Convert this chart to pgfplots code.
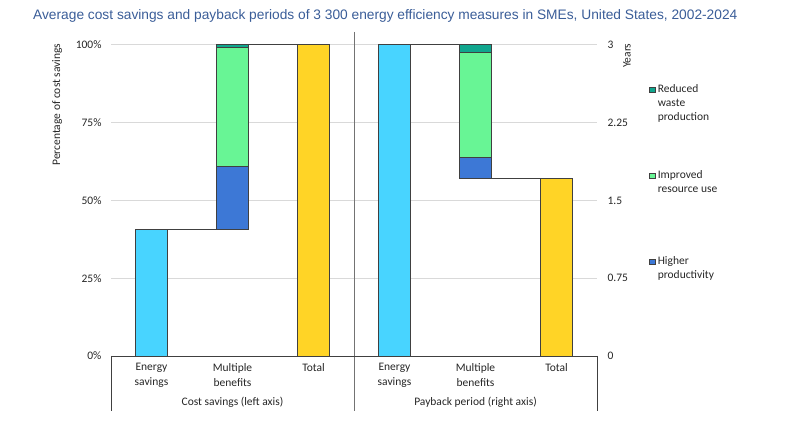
\documentclass[border=0pt]{standalone}
\usepackage{pgfplots}
\pgfplotsset{compat=1.18}
\usepackage{pgfplotstable}
\usepackage{fontspec}
\setmainfont{Carlito}
\newfontfamily\titlefont{Liberation Sans}
\definecolor{cES}{HTML}{48D4FF}
\definecolor{cHP}{HTML}{3D78D6}
\definecolor{cIR}{HTML}{68F595}
\definecolor{cRW}{HTML}{10A68E}
\definecolor{cTot}{HTML}{FFD426}
\definecolor{edge}{HTML}{404040}
\definecolor{titlecol}{HTML}{3A5D98}
\definecolor{tickcol}{HTML}{262626}

% Cost savings (percentage of cost savings)
\pgfplotstableread{
x   base  es    hp    ir    rw    total
0.5 0     40.7  0     0     0     0
1.5 40.7  0     20.2  38.4  0.7   0
2.5 0     0     0     0     0     100
}\costtab
% Payback period (years)
\pgfplotstableread{
x   base   es   hp    ir     rw     total
3.5 0      3    0     0      0      0
4.5 1.715  0    0.2   1.012  0.073  0
5.5 0      0    0     0      0      1.715
}\paytab

\tikzset{tfont/.style={font=\fontsize{11.5}{14.5}\selectfont, text=tickcol}}
\pgfplotsset{
  geom/.style={scale only axis, width=486pt, height=311.3pt,
    at={(111pt,66pt)}, anchor=south west,
    xmin=0, xmax=6, ymin=0, clip=false},
  bars/.style={draw=edge, line width=0.7pt},
  conn/.style={draw=edge, line width=0.7pt, mark=none},
}
\newcommand{\lgtxt}[1]{\vtop{\fontsize{11.5}{14}\selectfont #1}}

\begin{document}
\begin{tikzpicture}
\useasboundingbox (0,0) rectangle (799pt,422pt);
\node[anchor=base west, inner sep=0pt, text=titlecol,
      font=\titlefont\fontsize{13.75}{16}\selectfont] at (33pt,402.7pt)
  {Average cost savings and payback periods of 3 300 energy efficiency measures in SMEs, United States, 2002-2024};

% ---- left axis: cost savings ----
\begin{axis}[geom, ymax=100, ybar stacked, bar width=0.4,
  axis line style={draw=none}, major tick length=0pt,
  ymajorgrids, grid style={draw=black!15, line width=0.8pt},
  ytick={0,25,50,75,100}, yticklabels={0\%,25\%,50\%,75\%,100\%},
  yticklabel style={tfont, xshift=-6pt},
  xtick={0.5,1.5,2.5,3.5,4.5,5.5},
  xticklabels={Energy\\savings, Multiple\\benefits, Total, Energy\\savings, Multiple\\benefits, Total},
  xticklabel style={tfont, align=center, yshift=-4pt},
  every axis y label/.style={at={(axis description cs:-0.111,1.015)}, rotate=90, anchor=east,
     font=\fontsize{11.5}{14}\selectfont, text=tickcol},
  ylabel={Percentage of cost savings},
  reverse legend,
  legend image code/.code={\draw[#1, line width=0.6pt] (0pt,-0.5pt) rectangle (5.5pt,5pt);},
  legend style={draw=none, fill=none, inner sep=0pt, at={(axis description cs:1.107,0.875)},
     anchor=north west, row sep=46pt, column sep=2pt, cells={anchor=base west},
     nodes={inner sep=0.5pt, text depth=31pt, font=\fontsize{11.5}{14}\selectfont, text=tickcol}},
]
\addplot[draw=none, fill=none, forget plot] table[x=x, y=base] {\costtab};
\addplot[bars, fill=cES, forget plot] table[x=x, y=es] {\costtab};
\addplot[bars, fill=cHP] table[x=x, y=hp] {\costtab};
\addlegendentry{\lgtxt{\hbox{Higher}\hbox{productivity}}}
\addplot[bars, fill=cIR] table[x=x, y=ir] {\costtab};
\addlegendentry{\lgtxt{\hbox{Improved}\hbox{resource use}}}
\addplot[bars, fill=cRW] table[x=x, y=rw] {\costtab};
\addlegendentry{\lgtxt{\hbox{Reduced}\hbox{waste}\hbox{production}}}
\addplot[bars, fill=cTot, forget plot] table[x=x, y=total] {\costtab};
% frame of the category axis
\draw[edge, line width=0.8pt] (axis description cs:0,0) -- (axis description cs:1,0);
\draw[edge, line width=0.8pt] (axis description cs:0,0) -- (axis description cs:0,-0.1767);
\draw[edge, line width=0.8pt] (axis description cs:1,0) -- (axis description cs:1,-0.1767);
\draw[black!55, line width=0.8pt] (axis description cs:0.5,1.041) -- (axis description cs:0.5,-0.1767);
\node[tfont] at (axis description cs:0.25,-0.148) {Cost savings (left axis)};
\node[tfont] at (axis description cs:0.75,-0.148) {Payback period (right axis)};
\end{axis}

% ---- right axis: payback period ----
\begin{axis}[geom, ymax=3, ybar stacked, bar width=0.4,
  axis line style={draw=none}, major tick length=0pt,
  xtick=\empty,
  ytick={0,0.75,1.5,2.25,3}, yticklabels={0,0.75,1.5,2.25,3},
  yticklabel pos=right,
  yticklabel style={tfont, xshift=7pt, anchor=west},
  every axis y label/.style={at={(axis description cs:1.0617,1.015)}, rotate=90, anchor=east,
     font=\fontsize{11.5}{14}\selectfont, text=tickcol},
  ylabel={Years},
]
\addplot[draw=none, fill=none] table[x=x, y=base] {\paytab};
\addplot[bars, fill=cES] table[x=x, y=es] {\paytab};
\addplot[bars, fill=cHP] table[x=x, y=hp] {\paytab};
\addplot[bars, fill=cIR] table[x=x, y=ir] {\paytab};
\addplot[bars, fill=cRW] table[x=x, y=rw] {\paytab};
\addplot[bars, fill=cTot] table[x=x, y=total] {\paytab};
\end{axis}

% ---- connectors ----
\begin{axis}[geom, ymax=100, hide axis]
\addplot[conn] coordinates {(0.7,40.7) (1.3,40.7)};
\addplot[conn] coordinates {(1.7,100) (2.3,100)};
\end{axis}
\begin{axis}[geom, ymax=3, hide axis]
\addplot[conn] coordinates {(3.7,3) (4.3,3)};
\addplot[conn] coordinates {(4.7,1.715) (5.3,1.715)};
\end{axis}
\end{tikzpicture}
\end{document}
